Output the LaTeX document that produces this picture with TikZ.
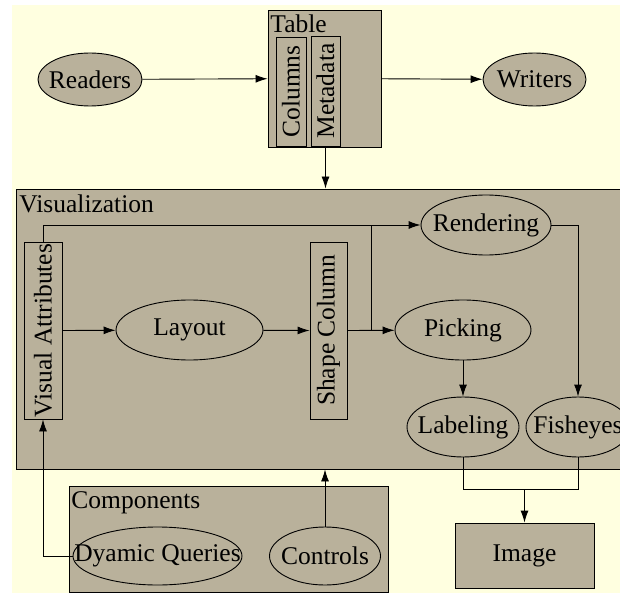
\documentclass[tikz,border=0pt]{standalone}
\usepackage{fontspec}
\setmainfont{Liberation Serif}
\usetikzlibrary{arrows.meta, positioning, shapes.geometric}
\definecolor{clusterfill}{RGB}{185,177,155}
\definecolor{cream}{RGB}{255,255,224}

\begin{document}
\begin{tikzpicture}[
    x=1pt, y=-1pt, % one unit per pixel, y pointing down
    >={Latex[length=12pt, width=8pt]}, % Set default arrow tip style
    font=\fontsize{25.5}{30}\selectfont,
    line width=0.9pt,
    oval/.style={ellipse, draw, fill=clusterfill, inner sep=0pt,
        execute at begin node=\hbox to 0pt\bgroup\hss,
        execute at end node=\hss\egroup}, % Style for ellipses
    box/.style={rectangle, draw, fill=clusterfill, inner sep=0pt}, % Style for boxes
    vbox/.style={box, rotate=90}, % Style for upright boxes
    clabel/.style={anchor=base west, inner sep=0pt} % Style for cluster titles
]

    % Canvas
    \useasboundingbox (0,0) rectangle (620,593);
    \clip (0,0) rectangle (620,593);
    \fill[cream] (12,5) rectangle (620,593);

    % Clusters
    \node[box, minimum width=113pt, minimum height=137pt] (tablebox) at (324.5,78.5) {};
    \node[box, minimum width=624pt, minimum height=280pt] (visbox) at (328,329) {};
    \node[box, minimum width=319pt, minimum height=106pt] (compbox) at (228.5,539) {};
    \node[clabel] (tablelbl) at (270,33) {Table};
    \node[clabel] (vislbl) at (19,213) {Visualization};
    \node[clabel] (complbl) at (71,508) {Components};

    % Table part
    \node[oval, minimum width=104pt, minimum height=53pt] (readers) at (90,79.5) {Readers};
    \node[oval, minimum width=103pt, minimum height=53pt] (writers) at (534.5,79.5) {Writers};
    \node[vbox, minimum width=109pt, minimum height=30pt] (columns) at (291,91.5) {Columns};
    \node[vbox, minimum width=110pt, minimum height=29pt] (metadata) at (325.5,91) {Metadata};

    % Visualization part
    \node[vbox, minimum width=177pt, minimum height=38pt] (visattr) at (43,330.5) {Visual Attributes};
    \node[oval, minimum width=147pt, minimum height=60pt] (layout) at (189.5,330) {Layout};
    \node[vbox, minimum width=177pt, minimum height=37pt] (shapecol) at (328.5,330.5) {Shape Column};
    \node[oval, minimum width=130pt, minimum height=60pt] (rendering) at (486,225) {Rendering};
    \node[oval, minimum width=136pt, minimum height=60pt] (picking) at (463,330) {Picking};
    \node[oval, minimum width=112pt, minimum height=60pt] (labeling) at (463,427) {Labeling};
    \node[oval, minimum width=104pt, minimum height=60pt] (fisheyes) at (578,427) {Fisheyes};

    % Components and output
    \node[oval, minimum width=169pt, minimum height=58pt] (queries) at (157.5,556) {Dyamic Queries};
    \node[oval, minimum width=111pt, minimum height=58pt] (controls) at (325,556) {Controls};
    \node[box, minimum width=139pt, minimum height=65pt] (image) at (524.5,555.5) {Image};

    % Junctions
    \coordinate (split) at (371,225);
    \coordinate (merge) at (524.5,489);

    % Connectors (rotated boxes: east is top, west is bottom)
    \draw[->] (readers) -- (tablebox);
    \draw[->] (tablebox) -- (writers);
    \draw[->] (metadata.west) -- (metadata.west |- visbox.north);
    \draw[->] (visattr.east) |- (rendering.west);
    \draw (shapecol.south) -| (split);
    \draw[->] (visattr.south) -- (layout);
    \draw[->] (layout) -- (shapecol.north);
    \draw[->] (shapecol.south) -- (picking);
    \draw[->] (rendering.east) -| (fisheyes.north);
    \draw[->] (picking) -- (labeling);
    \draw (labeling.south) |- (merge);
    \draw (fisheyes.south) |- (merge);
    \draw[->] (merge) -- (image);
    \draw[->] (controls) -- (controls.north |- visbox.south);
    \draw[->] (queries.west) -| (visattr.west);

\end{tikzpicture}
\end{document}
